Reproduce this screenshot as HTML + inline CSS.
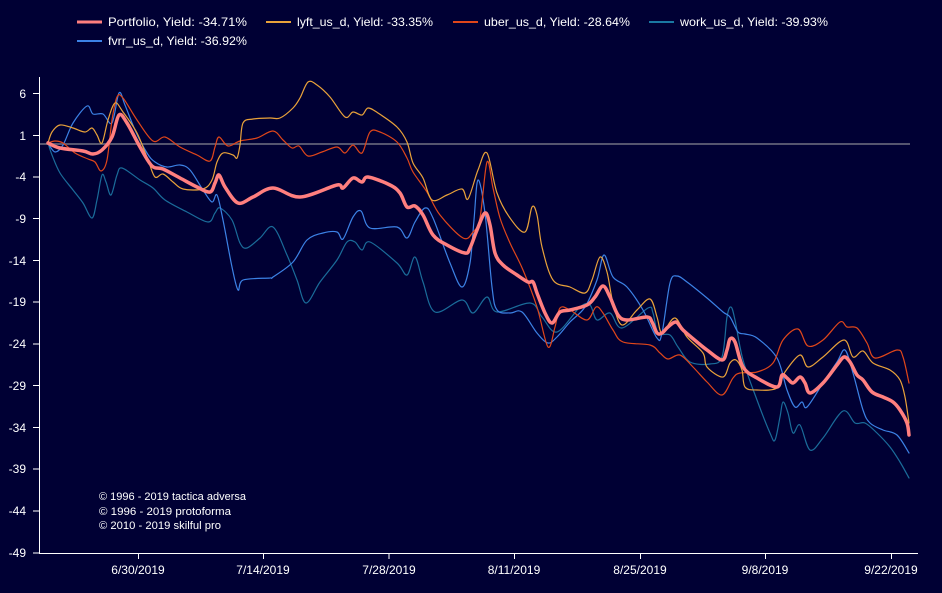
<!DOCTYPE html>
<html><head><meta charset="utf-8"><style>
html,body{margin:0;padding:0;background:#000034;}
svg{display:block;font-family:"Liberation Sans",sans-serif;}
</style></head><body>
<svg id="chart" width="942" height="593" viewBox="0 0 942 593" xmlns="http://www.w3.org/2000/svg">
<rect width="942" height="593" fill="#000034"/>
<!-- legend -->
<g font-size="12" fill="#ffffff">
<line x1="77" y1="22" x2="102" y2="22" stroke="#ff7f7f" stroke-width="3"/>
<text x="108" y="26" textLength="139" lengthAdjust="spacingAndGlyphs">Portfolio, Yield: -34.71%</text>
<line x1="266" y1="22" x2="291" y2="22" stroke="#e9a23a" stroke-width="2"/>
<text x="297" y="26" textLength="136" lengthAdjust="spacingAndGlyphs">lyft_us_d, Yield: -33.35%</text>
<line x1="453" y1="22" x2="478" y2="22" stroke="#e0461a" stroke-width="2"/>
<text x="484" y="26" textLength="146" lengthAdjust="spacingAndGlyphs">uber_us_d, Yield: -28.64%</text>
<line x1="649" y1="22" x2="674" y2="22" stroke="#1a78a2" stroke-width="2"/>
<text x="680" y="26" textLength="148" lengthAdjust="spacingAndGlyphs">work_us_d, Yield: -39.93%</text>
<line x1="77" y1="41" x2="102" y2="41" stroke="#3c82e6" stroke-width="2"/>
<text x="108" y="45" textLength="139" lengthAdjust="spacingAndGlyphs">fvrr_us_d, Yield: -36.92%</text>
</g>
<!-- axes -->
<g stroke="#ffffff" stroke-width="1">
<line x1="39.5" y1="77" x2="39.5" y2="553"/>
<line x1="39" y1="553.5" x2="918" y2="553.5"/>
<line x1="33" y1="93.5" x2="39" y2="93.5"/>
<line x1="33" y1="135.5" x2="39" y2="135.5"/>
<line x1="33" y1="177" x2="39" y2="177"/>
<line x1="33" y1="218.5" x2="39" y2="218.5"/>
<line x1="33" y1="260.5" x2="39" y2="260.5"/>
<line x1="33" y1="302" x2="39" y2="302"/>
<line x1="33" y1="344" x2="39" y2="344"/>
<line x1="33" y1="385.5" x2="39" y2="385.5"/>
<line x1="33" y1="427.5" x2="39" y2="427.5"/>
<line x1="33" y1="469" x2="39" y2="469"/>
<line x1="33" y1="511" x2="39" y2="511"/>
<line x1="33" y1="553" x2="39" y2="553"/>
<line x1="138.5" y1="553" x2="138.5" y2="559"/>
<line x1="263.5" y1="553" x2="263.5" y2="559"/>
<line x1="389" y1="553" x2="389" y2="559"/>
<line x1="514.5" y1="553" x2="514.5" y2="559"/>
<line x1="640.5" y1="553" x2="640.5" y2="559"/>
<line x1="765.5" y1="553" x2="765.5" y2="559"/>
<line x1="891.5" y1="553" x2="891.5" y2="559"/>
</g>
<g font-size="12" fill="#ffffff" text-anchor="end">
<text x="26" y="98">6</text>
<text x="26" y="140">1</text>
<text x="26" y="181">-4</text>
<text x="26" y="223">-9</text>
<text x="26" y="265">-14</text>
<text x="26" y="306">-19</text>
<text x="26" y="348">-24</text>
<text x="26" y="390">-29</text>
<text x="26" y="432">-34</text>
<text x="26" y="473">-39</text>
<text x="26" y="515">-44</text>
<text x="26" y="557">-49</text>
</g>
<g font-size="12" fill="#ffffff" text-anchor="middle">
<text x="138" y="574">6/30/2019</text>
<text x="263" y="574">7/14/2019</text>
<text x="389" y="574">7/28/2019</text>
<text x="514" y="574">8/11/2019</text>
<text x="640" y="574">8/25/2019</text>
<text x="765" y="574">9/8/2019</text>
<text x="891" y="574">9/22/2019</text>
</g>
<g font-size="11" fill="#ffffff">
<text x="99" y="500" textLength="147" lengthAdjust="spacingAndGlyphs">© 1996 - 2019 tactica adversa</text>
<text x="99" y="515" textLength="132" lengthAdjust="spacingAndGlyphs">© 1996 - 2019 protoforma</text>
<text x="99" y="529" textLength="122" lengthAdjust="spacingAndGlyphs">© 2010 - 2019 skilful pro</text>
</g>
<!-- zero line -->
<line x1="40" y1="144" x2="910" y2="144" stroke="#55556f" stroke-width="2"/>
<g id="series" fill="none" stroke-linejoin="round" stroke-linecap="round">
<!-- work -->
<polyline stroke="#1a6c9a" stroke-width="1.2" points="48,143 52,155 60,173 73,190 83,203 92,218 97,200 102,175 106,182 111,195 117,175 122,168 140,180 153,188 165,200 187,212 208,222 215,213 220,208 232,220 240,243 247,248 260,238 273,227 287,255 297,280 306,303 320,282 337,260 347,242 355,242 362,250 370,242 397,263 407,275 415,257 423,282 435,312 462,300 473,313 487,297 497,312 530,303 542,317 557,332 580,307 590,305 597,320 610,313 622,328 648,308 653,313 658,333 670,335 678,347 690,362 710,364 722,357 727,317 731,307 735,320 743,360 757,400 770,433 775,440 780,417 783,402 788,413 793,433 800,425 810,450 823,438 843,411 855,423 865,423 877,433 890,447 900,462 909,478"/>
<!-- fvrr -->
<polyline stroke="#3c82e6" stroke-width="1.2" points="48,143 55,152 63,145 73,123 87,106 93,114 103,114 112,123 119,93 125,105 135,130 147,153 155,162 167,167 180,165 190,170 203,190 212,202 217,195 223,220 232,267 238,290 243,280 270,278 273,277 293,262 307,240 323,233 337,232 343,239 353,217 361,211 370,228 397,227 407,238 415,222 425,208 433,218 450,263 462,287 470,263 474,220 478,180 485,213 492,287 497,310 510,313 522,312 537,333 548,343 557,337 570,322 585,307 597,280 604,255 613,277 627,287 643,310 657,338 662,333 670,283 677,276 687,282 707,298 723,312 730,317 738,332 745,334 757,338 777,358 787,390 795,407 802,402 807,407 823,383 837,362 845,350 853,373 863,410 870,423 883,430 897,435 909,453"/>
<!-- uber -->
<polyline stroke="#e0461a" stroke-width="1.2" points="48,143 55,141 63,143 75,153 88,159 95,162 101,171 107,160 112,120 117,97 123,98 137,120 153,141 165,137 180,147 197,155 210,161 215,147 219,137 228,146 240,141 257,138 273,131 283,140 292,148 299,146 308,156 322,152 337,147 345,153 353,145 362,153 370,132 380,132 397,142 407,158 413,172 427,192 440,215 463,238 473,232 480,218 487,162 493,188 500,218 510,243 523,270 537,307 548,347 555,327 560,308 570,310 587,320 596,307 603,313 613,330 623,342 650,345 660,353 668,359 680,355 693,367 707,382 722,395 733,378 740,373 757,372 773,363 783,340 798,329 808,346 823,340 840,322 847,327 857,328 867,343 875,358 897,350 903,357 909,383"/>
<!-- lyft -->
<polyline stroke="#e9a23a" stroke-width="1.2" points="48,143 52,132 60,125 73,128 85,132 92,128 97,135 102,143 108,120 115,103 123,112 137,133 148,160 155,177 163,174 173,182 183,189 203,189 212,180 217,162 223,153 233,155 237,158 240,145 243,123 253,119 270,118 280,118 293,108 300,98 308,82 317,85 330,97 345,117 353,112 362,115 368,108 378,113 397,127 407,142 413,163 423,178 432,200 447,195 462,189 468,199 478,170 487,153 497,193 510,218 525,232 532,207 537,215 542,247 553,280 570,287 585,293 592,280 600,257 607,272 613,303 622,325 637,310 650,299 657,317 660,330 663,333 675,318 687,337 703,353 707,367 723,377 730,363 736,360 742,370 745,387 757,390 777,388 785,372 800,355 808,367 823,357 844,340 853,357 863,351 873,363 890,370 900,380 905,397 909,423"/>
<!-- portfolio -->
<polyline stroke="#ff7f7f" stroke-width="3.5" points="48,143 60,148 83,151 93,154 102,150 112,137 119,115 127,123 140,147 152,166 163,169 180,178 197,187 210,192 215,183 219,175 225,187 238,203 253,197 273,188 300,197 337,185 343,188 353,178 362,182 368,177 390,185 400,193 407,207 415,206 423,215 433,235 447,245 465,253 470,248 477,230 485,213 490,225 495,253 503,265 517,275 528,282 533,282 537,293 545,313 552,323 560,312 570,310 587,305 595,297 603,286 610,297 618,315 627,320 647,317 652,322 657,333 662,333 668,327 676,322 683,330 697,342 707,350 722,360 727,350 730,339 735,342 743,367 757,378 777,387 782,375 787,378 793,383 800,377 805,383 810,393 823,383 837,365 844,357 850,362 857,375 863,380 872,392 883,397 893,402 900,410 907,423 909,435"/>
</g>
</svg>
<script>
(function(){
  try{
    var NS="http://www.w3.org/2000/svg";
    var g=document.getElementById("series");
    var pls=Array.prototype.slice.call(g.getElementsByTagName("polyline"));
    pls.forEach(function(pl){
      var raw=pl.getAttribute("points").trim().split(/\s+/).map(function(s){var a=s.split(",");return [parseFloat(a[0]),parseFloat(a[1])];});
      if(raw.length<3) return;
      var d="M"+raw[0][0]+","+raw[0][1];
      for(var i=0;i<raw.length-1;i++){
        var p0=raw[i>0?i-1:0],p1=raw[i],p2=raw[i+1],p3=raw[i+2<raw.length?i+2:raw.length-1];
        var t=6;
        var c1x=p1[0]+(p2[0]-p0[0])/t, c1y=p1[1]+(p2[1]-p0[1])/t;
        var c2x=p2[0]-(p3[0]-p1[0])/t, c2y=p2[1]-(p3[1]-p1[1])/t;
        // keep control x within segment to avoid loops
        if(c1x<p1[0]) c1x=p1[0]; if(c1x>p2[0]) c1x=p2[0];
        if(c2x<p1[0]) c2x=p1[0]; if(c2x>p2[0]) c2x=p2[0];
        d+=" C"+c1x.toFixed(2)+","+c1y.toFixed(2)+" "+c2x.toFixed(2)+","+c2y.toFixed(2)+" "+p2[0]+","+p2[1];
      }
      var path=document.createElementNS(NS,"path");
      path.setAttribute("d",d);
      path.setAttribute("stroke",pl.getAttribute("stroke"));
      path.setAttribute("stroke-width",pl.getAttribute("stroke-width"));
      path.setAttribute("fill","none");
      g.insertBefore(path,pl);
      g.removeChild(pl);
    });
  }catch(e){}
})();
</script>
</body></html>
